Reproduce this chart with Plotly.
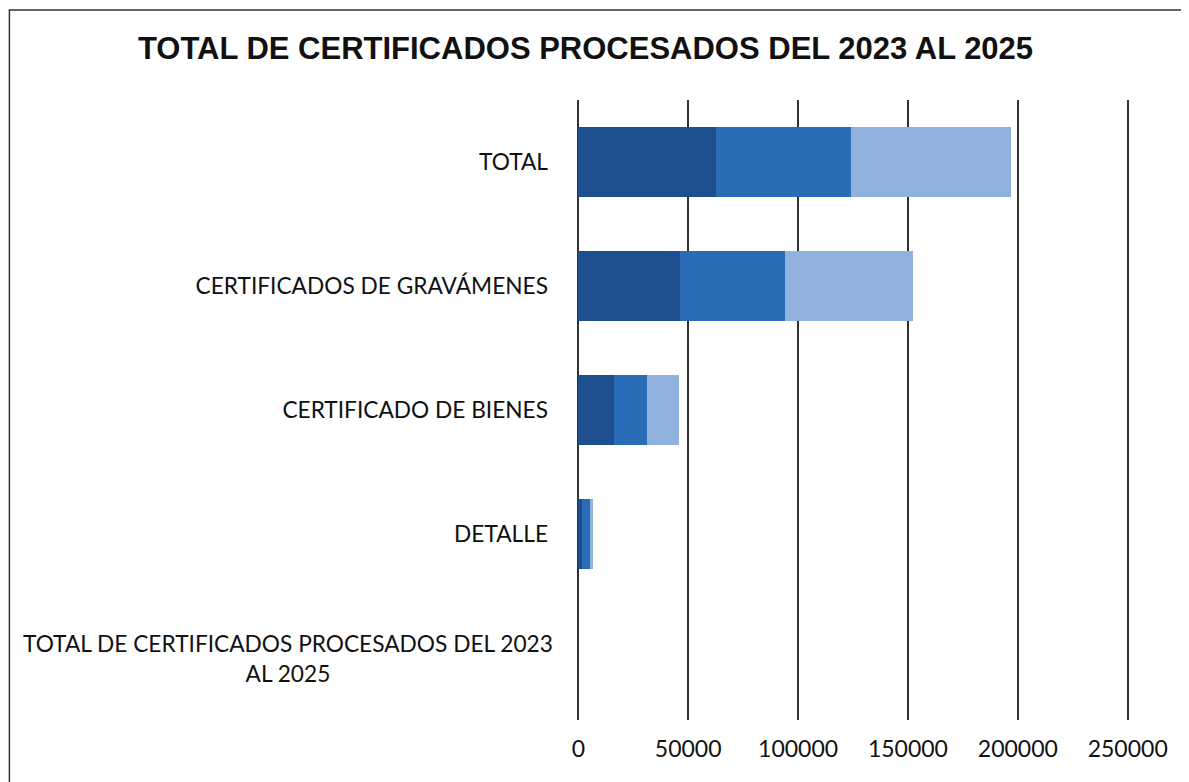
import plotly.graph_objects as go

# ---- data ----
categories = [
    "TOTAL DE CERTIFICADOS PROCESADOS DEL 2023<br>AL 2025",
    "DETALLE",
    "CERTIFICADO DE BIENES",
    "CERTIFICADOS DE GRAVÁMENES",
    "TOTAL",
]
series_names = ["2023", "2024", "2025"]
values_2023 = [0, 1500, 16400, 46400, 62600]
values_2024 = [0, 3600, 14800, 47700, 61500]
values_2025 = [0, 1400, 14400, 58300, 73000]
tick_values = [0, 50000, 100000, 150000, 200000, 250000]
title_text = "TOTAL DE CERTIFICADOS PROCESADOS DEL 2023 AL 2025"

colors = ["#1d4f8e", "#2b6cb6", "#92b2de"]

# page body has an 8px margin; work in screen pixels and subtract it
OX, OY = 8, 8
W, H = 1189 - OX, 782 - OY
x0_px, x250_px = 578 - OX, 1128 - OX
pad = 1500
ppu = (x250_px - x0_px) / 250000
left = x0_px - pad * ppu
right = x250_px + pad * ppu
top, bottom = 100 - OY, 720 - OY

fig = go.Figure()
for name, vals, col in zip(series_names, [values_2023, values_2024, values_2025], colors):
    fig.add_trace(go.Bar(
        y=list(range(len(categories))), x=vals, name=name, orientation="h",
        marker=dict(color=col, line=dict(width=0)), width=0.57,
    ))

ticktext = [c if i > 0 else "" for i, c in enumerate(categories)]

font_family = "Lato, Carlito, Calibri, 'Open Sans', sans-serif"
label_size = 22.7

fig.update_layout(
    width=W, height=H,
    barmode="stack",
    showlegend=False,
    plot_bgcolor="white", paper_bgcolor="white",
    margin=dict(l=left, r=W - right, t=top, b=H - bottom, autoexpand=False),
    title=dict(
        text="<b>" + title_text + "</b>",
        x=(585.5 - OX) / W, xanchor="center", xref="container",
        y=1 - (48 - OY) / H, yanchor="middle",
        font=dict(family="'Liberation Sans Narrow', 'Arial Narrow', 'Liberation Sans', Arial, sans-serif",
                  size=31, color="#111111"),
    ),
    xaxis=dict(
        range=[-pad, 250000 + pad],
        tickvals=tick_values,
        ticktext=[str(v) for v in tick_values],
        showgrid=True, gridcolor="#333333", gridwidth=1.5,
        zeroline=False, showline=False, ticks="",
        tickfont=dict(family=font_family, size=23, color="#111111"),
        ticklabelstandoff=13,
    ),
    yaxis=dict(
        range=[-0.5, len(categories) - 0.5],
        tickvals=list(range(len(categories))),
        ticktext=ticktext,
        showgrid=False, zeroline=False, showline=False, ticks="",
        tickfont=dict(family=font_family, size=label_size, color="#111111"),
        ticklabelstandoff=26,
    ),
)

# centered two-line label for the first category
fig.add_annotation(
    xref="paper", yref="y", x=(555 - OX - left) / (right - left), y=0,
    xanchor="right", yanchor="middle", align="center",
    text=categories[0], showarrow=False,
    font=dict(family=font_family, size=label_size, color="#111111"),
)

# frame around the chart (scanned page border)
pw = right - left
ph = bottom - top
fig.add_shape(
    type="rect", xref="paper", yref="paper",
    x0=(8.5 - OX - left) / pw, x1=(1200 - OX - left) / pw,
    y0=(bottom - (800 - OY)) / ph, y1=(bottom - (10 - OY)) / ph,
    line=dict(color="#333333", width=1.5), fillcolor="rgba(0,0,0,0)",
    layer="above",
)

fig.write_html("out.html")
